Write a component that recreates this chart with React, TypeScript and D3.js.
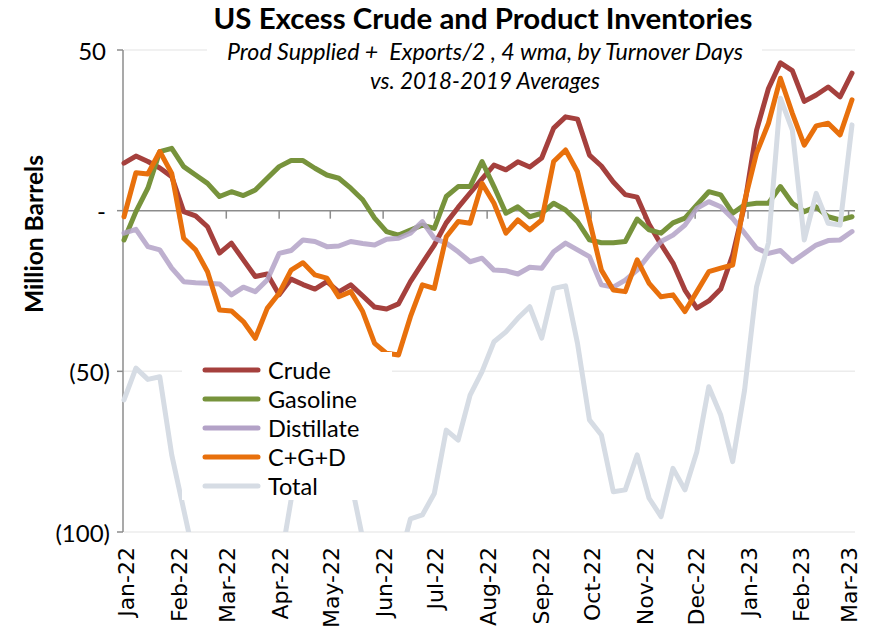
import React from "react";
import * as d3 from "d3";

const seriesNames = ["Crude", "Gasoline", "Distillate", "C+G+D", "Total"];
const seriesColors = ["#A5403D", "#77933C", "#B3A2C7", "#E8700C", "#D6DCE4"];

const startDate = new Date(2021, 11, 31);
const weekCount = 62;

const crude = [14.8, 17.0, 15.3, 13.3, 10.6, -0.3, -1.6, -5.0, -13.2, -10.1, -15.3, -20.5, -19.7, -26.2, -21.3, -23.0, -24.4, -22.1, -25.3, -23.1, -26.5, -30.0, -30.6, -29.0, -22.1, -16.3, -10.7, -3.8, 1.0, 5.5, 9.9, 14.2, 12.7, 15.2, 13.6, 16.4, 25.7, 29.2, 28.5, 17.3, 13.9, 8.9, 5.0, 4.2, -4.2, -10.5, -16.3, -24.7, -30.3, -28.1, -24.4, -13.8, 1.8, 25.0, 38.0, 46.0, 43.6, 34.0, 36.0, 38.5, 35.4, 42.8];
const gasoline = [-9.1, -0.3, 7.0, 18.4, 19.4, 13.7, 11.1, 8.5, 4.4, 5.9, 4.7, 6.4, 10.1, 13.7, 15.6, 15.6, 13.2, 11.1, 10.1, 7.0, 3.4, -2.3, -6.5, -7.6, -6.0, -4.5, -5.5, 4.4, 7.5, 7.5, 15.3, 7.5, -0.8, 1.2, -1.9, -0.8, 2.3, 0.2, -3.4, -9.1, -10.0, -10.0, -9.6, -2.6, -6.0, -7.0, -3.8, -2.3, 1.8, 5.9, 4.9, -0.8, 1.8, 2.3, 2.3, 7.5, 2.3, -0.3, 1.2, -1.9, -2.9, -1.9];
const distillate = [-7.0, -5.8, -11.2, -12.2, -17.9, -22.1, -22.4, -22.6, -22.8, -26.2, -23.8, -25.2, -21.6, -13.3, -12.4, -9.1, -9.6, -11.2, -11.0, -9.6, -10.2, -10.7, -8.9, -8.6, -7.0, -3.4, -8.6, -10.1, -12.8, -15.9, -14.8, -18.5, -18.7, -19.7, -17.6, -17.9, -12.8, -10.1, -12.2, -14.3, -23.1, -23.8, -21.6, -18.5, -13.8, -9.6, -7.6, -4.5, 0.7, 2.8, 1.2, -2.4, -7.0, -11.7, -13.3, -12.4, -15.9, -13.3, -10.7, -9.3, -9.1, -6.5];
const cgd = [-1.9, 11.8, 11.4, 18.4, 11.6, -8.6, -12.2, -19.0, -30.9, -31.2, -34.5, -39.7, -30.4, -25.7, -18.5, -16.2, -20.0, -21.0, -26.8, -25.2, -31.4, -41.3, -44.4, -44.9, -33.0, -23.1, -24.2, -8.1, -3.4, -3.9, 8.5, 2.3, -7.0, -2.9, -6.0, -2.9, 15.3, 18.9, 12.1, -3.0, -18.5, -24.7, -25.2, -15.3, -22.6, -26.8, -26.2, -31.4, -25.2, -19.0, -17.9, -16.9, 3.0, 17.9, 27.2, 41.2, 30.3, 20.4, 26.4, 27.2, 23.6, 34.5];
const total = [-58.9, -49.0, -52.5, -51.7, -76.0, -93.0, -110.0, -115.0, -118.0, -120.0, -118.0, -115.0, -112.0, -112.0, -90.0, -74.0, -68.0, -70.0, -76.0, -84.0, -102.0, -112.0, -115.0, -110.0, -95.9, -94.7, -88.0, -68.3, -71.4, -57.4, -50.1, -40.8, -37.7, -33.5, -29.9, -39.7, -24.2, -23.4, -41.3, -65.1, -69.8, -87.5, -86.9, -76.0, -89.5, -95.2, -80.2, -86.9, -75.0, -54.8, -63.6, -78.1, -55.8, -23.7, -10.0, 35.0, 25.1, -9.1, 5.4, -3.9, -4.5, 26.7];

const yTicks = [50, 0, -50, -100];
const yTickLabels = ["50", "-", "(50)", "(100)"];

const title = "US Excess Crude and Product Inventories";
const subtitle1 = "Prod Supplied +  Exports/2 , 4 wma, by Turnover Days";
const subtitle2 = "vs. 2018-2019 Averages";
const yTitle = "Million Barrels";

const W = 880;
const H = 633;
const plotLeft = 124;
const plotRight = 852;
const plotTop = 50;
const plotBottom = 532;

export default function App() {
  const dates = d3.range(weekCount).map((i) => d3.timeDay.offset(startDate, i * 7));
  const x = d3
    .scaleTime()
    .domain([dates[0], dates[dates.length - 1]])
    .range([plotLeft, plotRight]);
  const y = d3.scaleLinear().domain([-100, 50]).range([plotBottom, plotTop]);

  const months = d3.timeMonth.range(new Date(2022, 0, 1), new Date(2023, 2, 2));
  const fmt = d3.timeFormat("%b-%y");

  const line = d3
    .line<number>()
    .x((_, i) => x(dates[i]))
    .y((d) => y(d));

  const data = [crude, gasoline, distillate, cgd, total];
  const font = "Lato, 'Open Sans', sans-serif";

  return (
    <svg
      width={W}
      height={H}
      style={{ position: "absolute", left: 0, top: 0, background: "#fff" }}
    >
      <defs>
        <clipPath id="plotClip">
          <rect x={plotLeft - 4} y={plotTop - 10} width={plotRight - plotLeft + 10} height={plotBottom - plotTop + 10} />
        </clipPath>
      </defs>
      <rect x={0} y={0} width={W} height={H} fill="#fff" />

      {/* gridlines */}
      {yTicks.map((t) =>
        t === 0 ? null : (
          <line key={t} x1={plotLeft} x2={855} y1={y(t)} y2={y(t)} stroke="#ECECEC" strokeWidth={1.5} />
        )
      )}

      {/* zero axis with ticks */}
      <line x1={plotLeft - 1} x2={855} y1={y(0)} y2={y(0)} stroke="#8C8C8C" strokeWidth={1.5} />
      {months.slice(1).map((m) => (
        <line key={+m} x1={x(m)} x2={x(m)} y1={y(0)} y2={y(0) + 8} stroke="#8C8C8C" strokeWidth={1.5} />
      ))}

      {/* left axis */}
      <line x1={plotLeft - 1} x2={plotLeft - 1} y1={y(50)} y2={y(-100)} stroke="#8C8C8C" strokeWidth={1.5} />
      {yTicks.map((t) => (
        <line key={t} x1={plotLeft - 7} x2={plotLeft - 1} y1={y(t)} y2={y(t)} stroke="#8C8C8C" strokeWidth={1.5} />
      ))}
      {yTickLabels.map((lab, i) => (
        <text
          key={lab}
          x={yTicks[i] < 0 ? 110 : 106}
          y={y(yTicks[i])}
          textAnchor="end"
          dominantBaseline="central"
          fontFamily={font}
          fontSize={24}
          fill="#000"
        >
          {lab}
        </text>
      ))}

      {/* x labels */}
      {months.map((m) => (
        <text
          key={+m}
          transform={`translate(${x(m) + 1},547) rotate(-90)`}
          textAnchor="end"
          dominantBaseline="central"
          fontFamily="'DejaVu Sans', sans-serif"
          fontSize={22}
          fill="#000"
        >
          {fmt(m)}
        </text>
      ))}

      {/* series */}
      <g clipPath="url(#plotClip)">
        {data.map((s, k) => (
          <path
            key={k}
            d={line(s) || ""}
            fill="none"
            stroke={seriesColors[k]}
            strokeWidth={5}
            strokeLinejoin="round"
            strokeLinecap="round"
            opacity={k === 2 ? 0.85 : 1}
          />
        ))}
      </g>

      {/* title box */}
      <rect x={207} y={0} width={555} height={96} fill="#fff" />
      <text x={483} y={29} textAnchor="middle" fontFamily={font} fontWeight="bold" fontSize={28} textLength={539} lengthAdjust="spacingAndGlyphs" fill="#000">
        {title}
      </text>
      <text x={485} y={60} textAnchor="middle" fontFamily={font} fontStyle="italic" fontSize={23} textLength={516} lengthAdjust="spacingAndGlyphs" fill="#000" style={{ whiteSpace: "pre" }}>
        {subtitle1}
      </text>
      <text x={485} y={89} textAnchor="middle" fontFamily={font} fontStyle="italic" fontSize={23} textLength={230} lengthAdjust="spacingAndGlyphs" fill="#000">
        {subtitle2}
      </text>

      {/* legend */}
      <rect x={182} y={352} width={210} height={148} fill="#fff" />
      {seriesNames.map((n, k) => {
        const ly = 370 + k * 29;
        return (
          <g key={n}>
            <line x1={205} x2={258} y1={ly} y2={ly} stroke={seriesColors[k]} strokeWidth={5} strokeLinecap="round" />
            <text x={268} y={ly} dominantBaseline="central" fontFamily={font} fontSize={23.5} fill="#000">
              {n}
            </text>
          </g>
        );
      })}

      {/* y title */}
      <text
        transform="translate(33,234) rotate(-90)"
        textAnchor="middle"
        dominantBaseline="central"
        fontFamily={font}
        fontWeight="bold"
        fontSize={25}
        textLength={158}
        lengthAdjust="spacingAndGlyphs"
        fill="#000"
      >
        {yTitle}
      </text>
    </svg>
  );
}
